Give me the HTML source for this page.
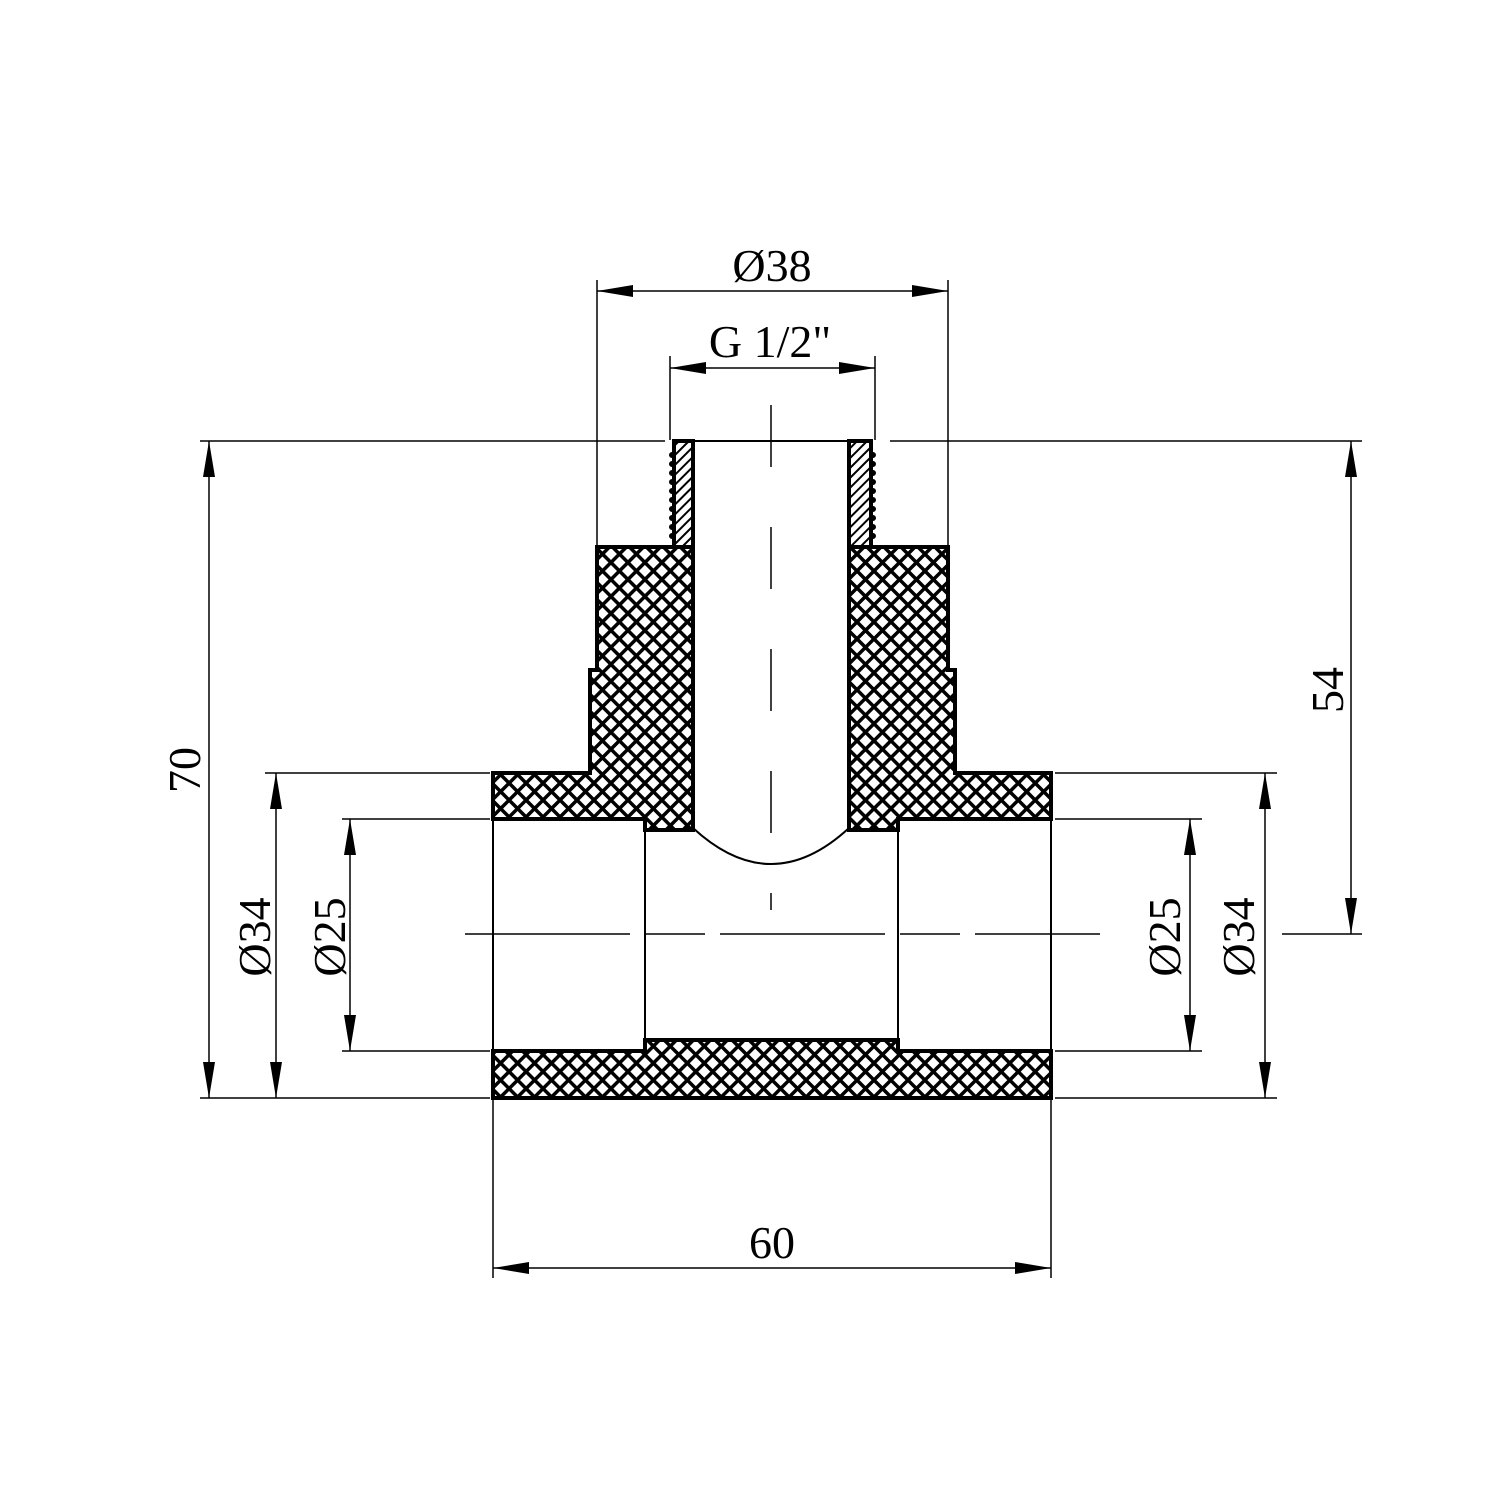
<!DOCTYPE html>
<html><head><style>body{margin:0;background:#fff}svg{display:block}</style></head><body>
<svg width="1500" height="1500" viewBox="0 0 1500 1500" xmlns="http://www.w3.org/2000/svg">
<defs>
<pattern id="h" width="12" height="12" patternUnits="userSpaceOnUse" patternTransform="rotate(45)">
<rect width="12" height="12" fill="#fff"/>
<rect width="12" height="3.5" fill="#000"/><rect width="3.5" height="12" fill="#000"/>
</pattern>
<pattern id="d" width="7" height="7" patternUnits="userSpaceOnUse" patternTransform="rotate(45)">
<rect width="7" height="7" fill="#fff"/><rect width="2" height="7" fill="#000"/>
</pattern>
<marker id="a" viewBox="0 0 36 12" refX="36" refY="6" markerWidth="36" markerHeight="12" markerUnits="userSpaceOnUse" orient="auto-start-reverse">
<path d="M0,0 L36,6 L0,12 Z" fill="#000"/></marker>
</defs>
<g stroke="#000" stroke-width="1.5" fill="none">
<line x1="200" y1="441" x2="665" y2="441"/><line x1="890" y1="441" x2="1362" y2="441"/>
<line x1="200" y1="1098" x2="490" y2="1098"/><line x1="1055" y1="1098" x2="1277" y2="1098"/>
<line x1="265" y1="773" x2="490" y2="773"/><line x1="1055" y1="773" x2="1277" y2="773"/>
<line x1="342" y1="819" x2="490" y2="819"/><line x1="1055" y1="819" x2="1202" y2="819"/>
<line x1="342" y1="1051" x2="490" y2="1051"/><line x1="1055" y1="1051" x2="1202" y2="1051"/>
<line x1="1282" y1="934" x2="1362" y2="934"/>
<line x1="597" y1="280" x2="597" y2="545"/><line x1="948" y1="280" x2="948" y2="545"/>
<line x1="670" y1="356" x2="670" y2="440"/><line x1="875" y1="356" x2="875" y2="440"/>
<line x1="493" y1="1100" x2="493" y2="1278"/><line x1="1051" y1="1100" x2="1051" y2="1278"/>
<line x1="597" y1="291" x2="948" y2="291" marker-start="url(#a)" marker-end="url(#a)"/>
<line x1="670" y1="368" x2="875" y2="368" marker-start="url(#a)" marker-end="url(#a)"/>
<line x1="209" y1="441" x2="209" y2="1098" marker-start="url(#a)" marker-end="url(#a)"/>
<line x1="1351" y1="441" x2="1351" y2="934" marker-start="url(#a)" marker-end="url(#a)"/>
<line x1="276" y1="773" x2="276" y2="1098" marker-start="url(#a)" marker-end="url(#a)"/>
<line x1="350" y1="819" x2="350" y2="1051" marker-start="url(#a)" marker-end="url(#a)"/>
<line x1="1190" y1="819" x2="1190" y2="1051" marker-start="url(#a)" marker-end="url(#a)"/>
<line x1="1265" y1="773" x2="1265" y2="1098" marker-start="url(#a)" marker-end="url(#a)"/>
<line x1="493" y1="1268" x2="1051" y2="1268" marker-start="url(#a)" marker-end="url(#a)"/>
<line x1="465" y1="934" x2="1100" y2="934" stroke-dasharray="165,15,60,15"/>
<line x1="771" y1="405" x2="771" y2="910" stroke-dasharray="62,60"/>
</g>
<g stroke="#000" stroke-width="4" fill="url(#h)" stroke-linejoin="miter">
<path d="M493,773 L590,773 L590,670 L597,670 L597,547 L693,547 L693,830 L645,830 L645,819 L493,819 Z"/>
<path d="M849,547 L948,547 L948,670 L955,670 L955,773 L1051,773 L1051,819 L898,819 L898,830 L849,830 Z"/>
<path d="M493,1051 L645,1051 L645,1040 L898,1040 L898,1051 L1051,1051 L1051,1098 L493,1098 Z"/>
<path d="M680,441 L693,441 L693,547 L674,547 L674,441 Z" fill="url(#d)"/>
<path d="M849,441 L862,441 L871,441 L871,547 L849,547 Z" fill="url(#d)"/>
</g>
<g stroke="#000" stroke-width="6" stroke-linecap="round" stroke-dasharray="0,9" fill="none">
<line x1="672" y1="455" x2="672" y2="545"/>
<line x1="873" y1="455" x2="873" y2="545"/>
</g>
<g stroke="#000" stroke-width="2" fill="none">
<line x1="493" y1="819" x2="493" y2="1051"/><line x1="1051" y1="819" x2="1051" y2="1051"/>
<line x1="645" y1="830" x2="645" y2="1040"/><line x1="898" y1="830" x2="898" y2="1040"/>
<line x1="693" y1="441" x2="849" y2="441"/>
<path d="M693,828 Q771,900 849,828"/>
</g>
<g font-family="Liberation Serif, serif" font-size="46" fill="#000" text-anchor="middle">
<text x="772" y="281">Ø38</text>
<text x="770" y="357">G 1/2"</text>
<text x="772" y="1258">60</text>
<text transform="translate(200,770) rotate(-90)">70</text>
<text transform="translate(1343,690) rotate(-90)">54</text>
<text transform="translate(270,937) rotate(-90)">Ø34</text>
<text transform="translate(345,937) rotate(-90)">Ø25</text>
<text transform="translate(1180,937) rotate(-90)">Ø25</text>
<text transform="translate(1254,937) rotate(-90)">Ø34</text>
</g>
</svg>
</body></html>
